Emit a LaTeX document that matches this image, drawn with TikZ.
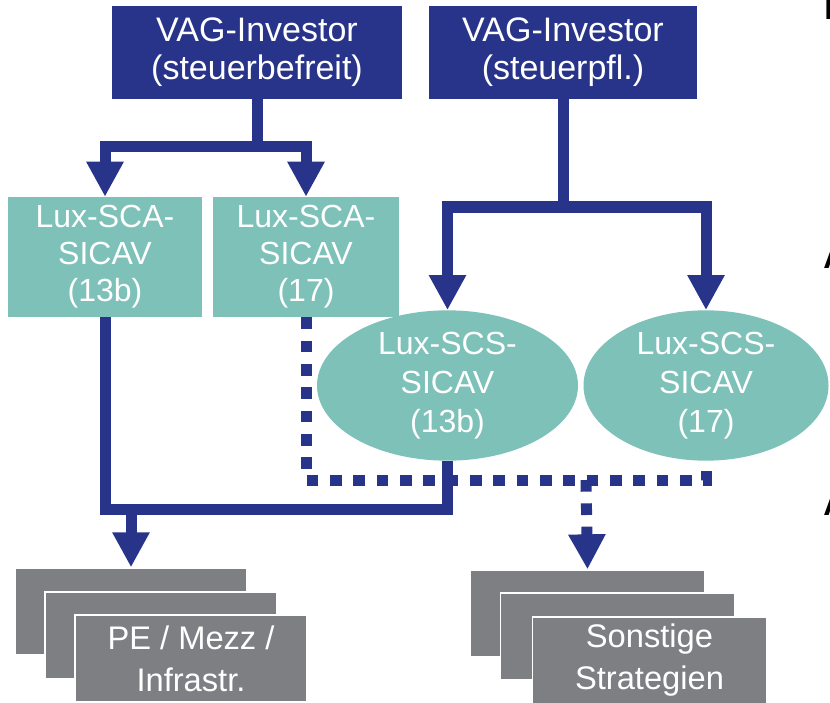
\documentclass[tikz,border=0pt]{standalone}
\usepackage{fontspec}
\setmainfont{Liberation Sans}
\usetikzlibrary{positioning, arrows.meta, shapes.geometric}
\definecolor{vagblue}{RGB}{40,52,138}
\definecolor{luxteal}{RGB}{126,193,185}
\definecolor{stratgray}{RGB}{125,127,131}

\begin{document}
\begin{tikzpicture}[
  x=0.75pt, y=-0.75pt,
  every node/.style={text=white, align=center, inner sep=0pt},
  investor/.style={
    rectangle, fill=vagblue, minimum width=#1, minimum height=69.75pt,
    font=\fontsize{25.5}{28.5}\selectfont
  },
  scabox/.style={
    rectangle, fill=luxteal, minimum width=#1, minimum height=90pt,
    font=\fontsize{24}{27.75}\selectfont
  },
  scsell/.style={
    ellipse, fill=luxteal, minimum width=#1, minimum height=101.25pt,
    font=\fontsize{24}{29}\selectfont
  },
  strat/.style={
    rectangle, fill=stratgray, draw=white, line width=1pt,
    minimum width=#1, minimum height=65.25pt,
    font=\fontsize{24.5}{31.5}\selectfont
  },
  frag/.style={text=black, anchor=base west, font=\fontsize{24}{28}\selectfont\bfseries},
  link/.style={draw=vagblue, line width=8.25pt},
  arr/.style={link, -{Triangle[length=26.25pt, width=26.25pt]}},
  dotlink/.style={link, dash pattern=on 8.75pt off 8.75pt},
  dotarr/.style={dotlink, -{Triangle[length=26.25pt, width=26.25pt]}},
]
\useasboundingbox (0,0) rectangle (830,702);

%% Investors
\node[investor=217.5pt] (inv1) at (257,52.5) {VAG-Investor\\(steuerbefreit)};
\node[investor=201pt] (inv2) at (563,52.5) {VAG-Investor\\(steuerpfl.)};

%% Lux vehicles
\node[scabox=145.5pt] (sca1) at (105,257) {Lux-SCA-\\SICAV\\(13b)};
\node[scabox=139.5pt] (sca2) at (306,257) {Lux-SCA-\\SICAV\\(17)};
\node[scsell=195.75pt] (scs1) at (447.5,385.5) {Lux-SCS-\\SICAV\\(13b)};
\node[scsell=183.75pt] (scs2) at (706,385.5) {Lux-SCS-\\SICAV\\(17)};

%% Strategies
\node[strat=174pt] (peA) at (131,611.5) {};
\node[strat=174pt] (peB) at ([shift={(30,24)}]peA) {};
\node[strat=174pt] (pe) at ([shift={(30,23)}]peB) {PE / Mezz /\\Infrastr.};
\node[strat=176pt] (stA) at (587.5,613.5) {};
\node[strat=176pt] (stB) at ([shift={(30,23)}]stA) {};
\node[strat=176pt] (st) at ([shift={(32,24)}]stB) {Sonstige\\Strategien};

%% cut-off headings at the right edge
\node[frag] (fragE) at (824,20) {E};
\node[frag] (fragA1) at (823,268) {A};
\node[frag] (fragA2) at (823,515) {A};

%% Junctions
\coordinate (fork1) at (257,147);
\coordinate (fork2) at (563,207);
\coordinate (merge1) at (131,509);
\coordinate (merge2) at (586,480);

%% Arrows
\draw[link] (inv1.south) -- (fork1);
\draw[arr]  (fork1) -| (sca1.north);
\draw[arr]  (fork1) -| (sca2.north);
\draw[link] (inv2.south) -- (fork2);
\draw[arr]  (fork2) -| (scs1.north);
\draw[arr]  (fork2) -| (scs2.north);

\draw[link] (sca1.south) |- (merge1) -| (scs1.south);
\draw[arr]  (merge1) -- (peA.north);

\draw[dotlink] (sca2.south) |- (merge2) -| (scs2.south);
\draw[dotarr]  (merge2) -- (stA.north);

\end{tikzpicture}
\end{document}
